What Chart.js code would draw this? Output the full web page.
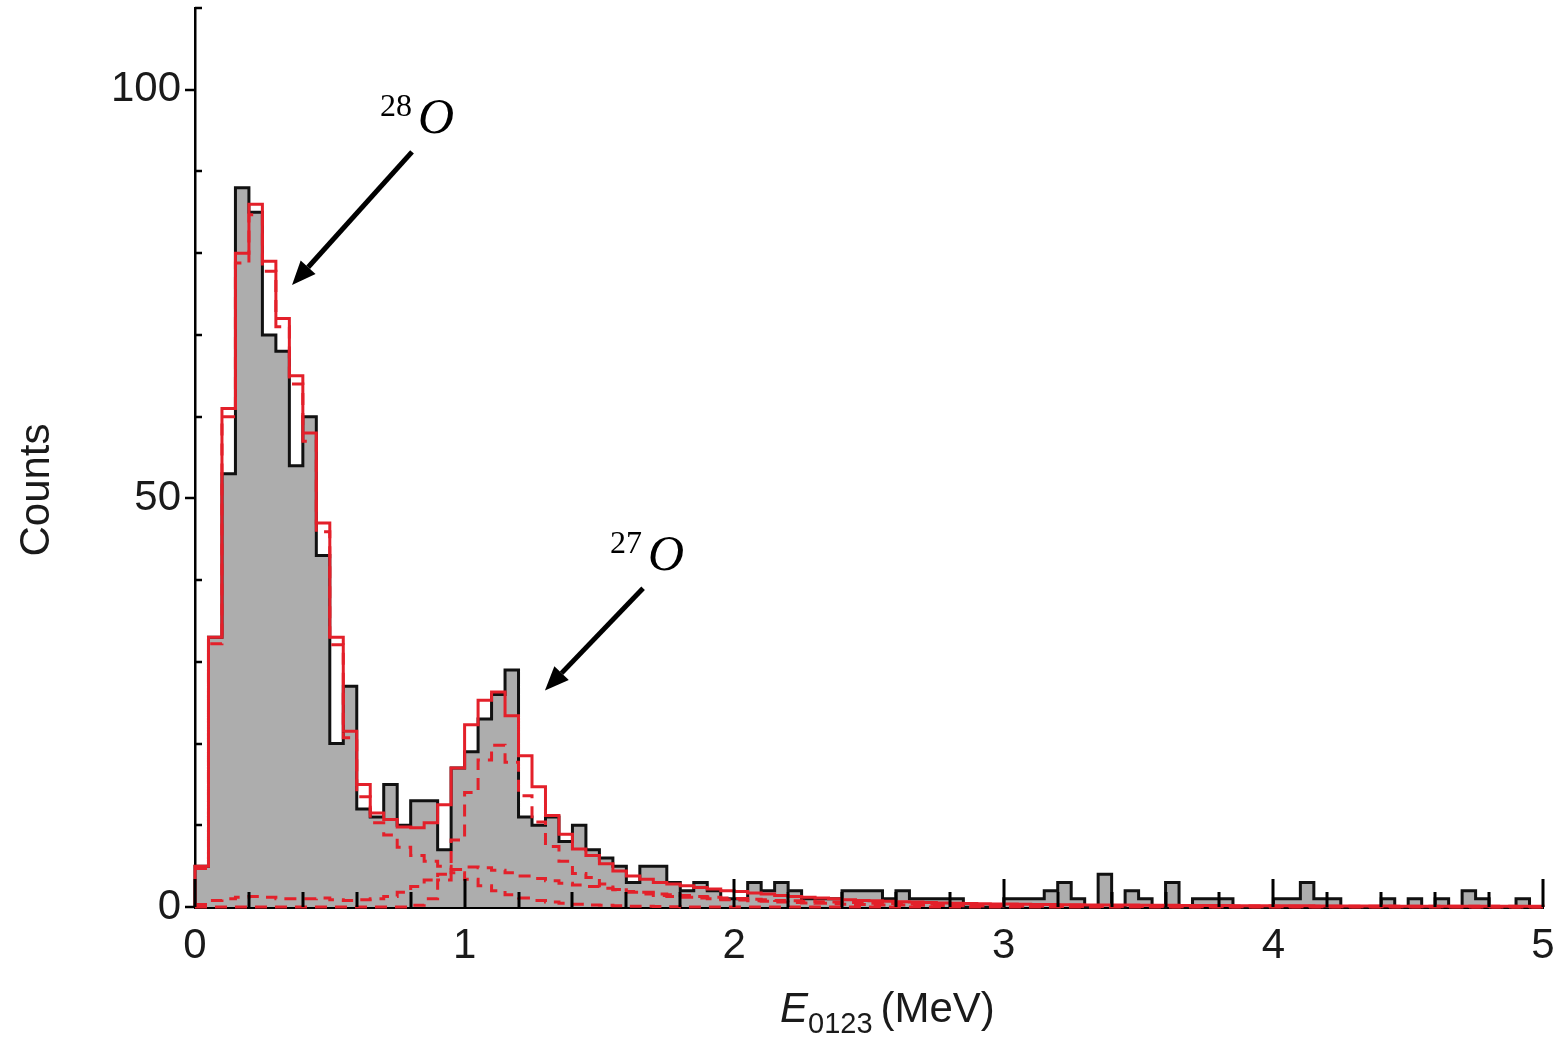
<!DOCTYPE html>
<html>
<head>
<meta charset="utf-8">
<title>E0123 decay-energy spectrum</title>
<script src="https://cdn.jsdelivr.net/npm/chart.js@4.4.0/dist/chart.umd.min.js"></script>
<style>
    html, body { margin: 0; padding: 0; background: #fff; }
    #wrap { width: 1560px; height: 1041px; }
</style>
</head>
<body>
<div id="wrap"><canvas id="spectrum" width="1560" height="1041"></canvas></div>
<script>
// ─── Spectrum data: 100 bins of 0.05 MeV, 0–5 MeV ─────────────
const BIN_WIDTH = 0.05;

const measuredCounts = [
    5, 33, 53, 88, 85, 70, 68, 54, 60, 43,
    20, 27, 12, 11, 15, 10, 13, 13, 7, 17,
    19, 23, 26, 29, 11, 10, 11, 8, 10, 7,
    6, 5, 3, 5, 5, 3, 2, 3, 2, 1,
    1, 3, 2, 3, 2, 1, 1, 1, 2, 2,
    2, 1, 2, 1, 1, 1, 1, 0, 0, 0,
    1, 1, 1, 2, 3, 1, 0, 4, 0, 2,
    1, 0, 3, 0, 1, 1, 1, 0, 0, 0,
    1, 1, 3, 1, 1, 0, 0, 0, 1, 0,
    1, 0, 1, 0, 2, 1, 0, 0, 1, 0
];

// total fit
const fitTotal = [
    5, 33, 61, 80, 86, 79, 72, 65, 58, 47,
    33, 21.5, 15, 11.5, 10.7, 9.8, 9.7, 10.3, 12.5, 17,
    22.3, 25.3, 26.3, 23.4, 18.5, 14.7, 11.2, 8.9, 7.1, 6.3,
    5.3, 4.4, 3.8, 3.4, 3.0, 2.8, 2.6, 2.4, 2.2, 2.0,
    1.9, 1.7, 1.6, 1.4, 1.3, 1.2, 1.1, 1.0, 0.9, 0.8,
    0.75, 0.7, 0.65, 0.6, 0.55, 0.5, 0.45, 0.42, 0.4, 0.38,
    0.36, 0.34, 0.32, 0.3, 0.28, 0.27, 0.26, 0.25, 0.24, 0.23,
    0.22, 0.21, 0.2, 0.19, 0.18, 0.18, 0.17, 0.16, 0.16, 0.15,
    0.15, 0.14, 0.14, 0.13, 0.13, 0.12, 0.12, 0.11, 0.11, 0.1,
    0.1, 0.1, 0.1, 0.09, 0.09, 0.09, 0.08, 0.08, 0.08, 0.08
];

// 28O component
const fitO28 = [
    4.7, 32.2, 60, 78.8, 84.7, 77.8, 71, 64, 57, 45.9,
    32.1, 20.7, 13.5, 10.3, 8.8, 7.3, 6.3, 5.6, 5.0, 4.2,
    3.4, 2.6, 2.0, 1.5, 1.1, 0.8, 0.6, 0.45, 0.35, 0.25,
    0.2, 0.15, 0.1, 0.08, 0.05, 0.03, 0, 0, 0, 0,
    0, 0, 0, 0, 0, 0, 0, 0, 0, 0,
    0, 0, 0, 0, 0, 0, 0, 0, 0, 0,
    0, 0, 0, 0, 0, 0, 0, 0, 0, 0,
    0, 0, 0, 0, 0, 0, 0, 0, 0, 0,
    0, 0, 0, 0, 0, 0, 0, 0, 0, 0,
    0, 0, 0, 0, 0, 0, 0, 0, 0, 0
];

// 27O component
const fitO27 = [
    0, 0, 0, 0, 0, 0, 0, 0, 0, 0,
    0, 0, 0, 0, 0, 0, 0.2, 1.0, 3.3, 8.2,
    14.0, 18.0, 19.8, 17.7, 13.6, 10.4, 7.4, 5.6, 4.1, 3.6,
    2.8, 2.15, 1.8, 1.6, 1.4, 1.3, 1.2, 1.1, 1.0, 0.9,
    0.85, 0.75, 0.7, 0.6, 0.55, 0.5, 0.45, 0.4, 0.35, 0.3,
    0.28, 0.26, 0.24, 0.22, 0.2, 0.18, 0.15, 0.14, 0.13, 0.12,
    0.11, 0.1, 0.09, 0.08, 0.07, 0.07, 0.06, 0.06, 0.05, 0.05,
    0.05, 0.05, 0.04, 0.04, 0.04, 0.04, 0.03, 0.03, 0.03, 0.03,
    0.03, 0.03, 0.02, 0.02, 0.02, 0.02, 0.02, 0.02, 0.02, 0.02,
    0.02, 0.02, 0.02, 0.02, 0.01, 0.01, 0.01, 0.01, 0.01, 0.01
];

// broad continuum component
const fitContinuum = [
    0.3, 0.8, 1.0, 1.2, 1.3, 1.2, 1.0, 1.0, 1.0, 1.1,
    0.9, 0.8, 0.9, 1.0, 1.3, 1.8, 2.5, 3.3, 4.0, 4.6,
    4.9, 4.8, 4.5, 4.2, 3.8, 3.5, 3.2, 2.9, 2.7, 2.5,
    2.3, 2.1, 1.9, 1.8, 1.6, 1.5, 1.4, 1.3, 1.2, 1.1,
    1.05, 0.95, 0.9, 0.8, 0.75, 0.7, 0.65, 0.6, 0.55, 0.5,
    0.47, 0.44, 0.41, 0.38, 0.35, 0.32, 0.3, 0.28, 0.27, 0.26,
    0.25, 0.24, 0.23, 0.22, 0.21, 0.2, 0.19, 0.18, 0.17, 0.16,
    0.15, 0.15, 0.14, 0.14, 0.13, 0.13, 0.12, 0.12, 0.11, 0.11,
    0.1, 0.1, 0.1, 0.1, 0.1, 0.1, 0.1, 0.1, 0.1, 0.1,
    0.09, 0.09, 0.09, 0.09, 0.08, 0.08, 0.08, 0.08, 0.07, 0.07
];

const xTickValues = [0, 1, 2, 3, 4, 5];
const yTickValues = [0, 50, 100];

const binStarts = measuredCounts.map((_, i) => Math.round(i * BIN_WIDTH * 100) / 100);

// ─── Styling ───────────────────────────────────
const RED = '#e3202a';
const GREY = '#adadad';
const SANS = '"Liberation Sans", Arial, Helvetica, sans-serif';
const SERIF = '"Liberation Serif", "DejaVu Serif", serif';

// stepped outline: one point per bin start plus the right edge
function histogramPoints(values, closed) {
    const pts = [];
    const end = binStarts[binStarts.length - 1] + BIN_WIDTH;
    if (closed) pts.push({ x: binStarts[0], y: 0 });
    values.forEach((v, i) => pts.push({ x: binStarts[i], y: v }));
    pts.push({ x: end, y: values[values.length - 1] });
    if (closed) pts.push({ x: end, y: 0 });
    return pts;
}

// arrows and isotope labels, in axis units
const arrows = [
    { from: [0.805, 92.4], to: [0.36, 76.1] },
    { from: [1.662, 39.0], to: [1.298, 26.5] }
];
const isotopeLabels = [
    { mass: '28', symbol: 'O', x: 0.686, y: 94.7 },
    { mass: '27', symbol: 'O', x: 1.539, y: 41.2 }
];

function drawArrow(ctx, x0, y0, x1, y1) {
    const ang = Math.atan2(y1 - y0, x1 - x0);
    const head = 24, half = 10;
    const bx = x1 - head * Math.cos(ang);
    const by = y1 - head * Math.sin(ang);
    ctx.beginPath();
    ctx.moveTo(x0, y0);
    ctx.lineTo(bx, by);
    ctx.stroke();
    ctx.beginPath();
    ctx.moveTo(x1, y1);
    ctx.lineTo(bx + half * Math.sin(ang), by - half * Math.cos(ang));
    ctx.lineTo(bx - half * Math.sin(ang), by + half * Math.cos(ang));
    ctx.closePath();
    ctx.fill();
}

// no label overhang padding, so the plot box sits where the layout says
function noOverhang(scale) {
    scale.paddingTop = 0;
    scale.paddingBottom = 0;
    scale.paddingLeft = 0;
    scale.paddingRight = 0;
}

const decorations = {
    id: 'decorations',
    afterDraw(chart) {
        const { ctx, chartArea, scales: { x, y } } = chart;
        const base = y.getPixelForValue(0);
        ctx.save();
        ctx.strokeStyle = '#000';
        ctx.lineCap = 'butt';

        // x ticks: minor every 0.2, major every 1, pointing inward
        ctx.lineWidth = 3;
        for (let k = 0; k <= 25; k++) {
            const px = Math.round(x.getPixelForValue(k * 0.2));
            const len = k % 5 === 0 ? 28 : 15;
            ctx.beginPath();
            ctx.moveTo(px, base);
            ctx.lineTo(px, base - len);
            ctx.stroke();
        }

        // y ticks: minor every 10 inward, majors outward
        ctx.lineWidth = 2.5;
        const left = chartArea.left;
        for (let v = 0; v <= 110; v += 10) {
            const py = Math.round(y.getPixelForValue(v));
            ctx.beginPath();
            if (yTickValues.includes(v)) {
                ctx.moveTo(left - 10, py);
                ctx.lineTo(left, py);
            } else {
                ctx.moveTo(left, py);
                ctx.lineTo(left + 7, py);
            }
            ctx.stroke();
        }

        // axis titles
        ctx.fillStyle = '#1a1a1a';
        ctx.textBaseline = 'alphabetic';
        ctx.textAlign = 'left';
        ctx.font = `italic 42px ${SANS}`;
        let tx = 780;
        ctx.fillText('E', tx, 1022);
        tx += ctx.measureText('E').width;
        ctx.font = `29px ${SANS}`;
        ctx.fillText('0123', tx, 1033);
        tx += ctx.measureText('0123').width + 8;
        ctx.font = `42px ${SANS}`;
        ctx.fillText('(MeV)', tx, 1022);

        ctx.save();
        ctx.translate(37, 490);
        ctx.rotate(-Math.PI / 2);
        ctx.textAlign = 'center';
        ctx.textBaseline = 'middle';
        ctx.font = `42px ${SANS}`;
        ctx.fillText('Counts', 0, 0);
        ctx.restore();

        // arrows
        ctx.fillStyle = '#000';
        ctx.strokeStyle = '#000';
        ctx.lineWidth = 5;
        arrows.forEach(a => {
            drawArrow(ctx,
                x.getPixelForValue(a.from[0]), y.getPixelForValue(a.from[1]),
                x.getPixelForValue(a.to[0]), y.getPixelForValue(a.to[1]));
        });

        // isotope labels
        isotopeLabels.forEach(l => {
            const px = x.getPixelForValue(l.x);
            const py = y.getPixelForValue(l.y);
            ctx.font = `32px ${SERIF}`;
            ctx.textAlign = 'left';
            ctx.textBaseline = 'alphabetic';
            ctx.fillText(l.mass, px, py - 17);
            const w = ctx.measureText(l.mass).width;
            ctx.font = `italic 50px ${SERIF}`;
            ctx.fillText(l.symbol, px + w + 6, py);
        });

        ctx.restore();
    }
};

const dashedComponent = (label, values) => ({
    label,
    data: histogramPoints(values, false),
    stepped: 'before',
    borderColor: RED,
    borderWidth: 3,
    borderDash: [12, 8],
    pointRadius: 0,
    fill: false,
    clip: 6
});

const ctx = document.getElementById('spectrum');

new Chart(ctx, {
    type: 'line',
    data: {
        datasets: [
            {
                label: 'Total',
                data: histogramPoints(fitTotal, true),
                stepped: 'before',
                borderColor: RED,
                borderWidth: 3,
                pointRadius: 0,
                fill: false,
                clip: 6
            },
            dashedComponent('28O', fitO28),
            dashedComponent('27O', fitO27),
            dashedComponent('Continuum', fitContinuum),
            {
                label: 'Data',
                data: histogramPoints(measuredCounts, true),
                stepped: 'before',
                borderColor: '#111',
                borderWidth: 3,
                backgroundColor: GREY,
                pointRadius: 0,
                fill: 'origin',
                clip: 6
            }
        ]
    },
    options: {
        responsive: false,
        animation: false,
        devicePixelRatio: 1,
        layout: { padding: { top: 8, right: 17, left: 0, bottom: 0 } },
        plugins: {
            legend: { display: false },
            tooltip: { enabled: false }
        },
        scales: {
            x: {
                type: 'linear',
                min: 0,
                max: 5,
                afterFit: (scale) => { scale.height = 134; noOverhang(scale); },
                grid: { display: false },
                border: { display: true, color: '#000', width: 3 },
                ticks: {
                    stepSize: 1,
                    padding: 6,
                    color: '#1a1a1a',
                    font: { family: SANS, size: 42 },
                    maxRotation: 0,
                    callback: (v) => xTickValues.includes(v) ? String(v) : ''
                }
            },
            y: {
                type: 'linear',
                min: 0,
                max: 110,
                afterFit: (scale) => { scale.width = 195; noOverhang(scale); },
                grid: { display: false },
                border: { display: true, color: '#000', width: 2.5 },
                ticks: {
                    stepSize: 10,
                    padding: 6,
                    color: '#1a1a1a',
                    font: { family: SANS, size: 42 },
                    callback: (v) => yTickValues.includes(v) ? String(v) : ''
                }
            }
        }
    },
    plugins: [decorations]
});
</script>
</body>
</html>
